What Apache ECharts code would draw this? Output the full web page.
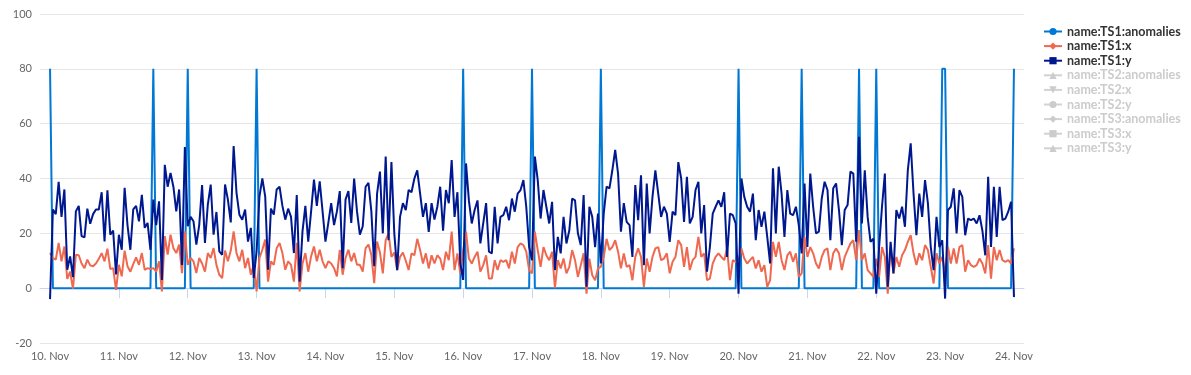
<!DOCTYPE html>
<html>
<head>
<meta charset="utf-8">
<script src="https://cdn.jsdelivr.net/npm/echarts@6/dist/echarts.min.js"></script>
<style>
	html, body { margin: 0; padding: 0; background: #fff; }
	#chart { width: 1191px; height: 375px; }
</style>
</head>
<body>
<div id="chart"></div>
<script>
// hourly samples, 10. Nov 00:00 .. 24. Nov 00:00 (one row per day)
var startDay = 10;
var dayLabels = [10, 11, 12, 13, 14, 15, 16, 17, 18, 19, 20, 21, 22, 23, 24];

var ts1Anomalies = [
	80, 0, 0, 0, 0, 0, 0, 0, 0, 0, 0, 0, 0, 0, 0, 0, 0, 0, 0, 0, 0, 0, 0, 0,
	0, 0, 0, 0, 0, 0, 0, 0, 0, 0, 0, 0, 80, 0, 0, 0, 0, 0, 0, 0, 0, 0, 0, 0,
	80, 0, 0, 0, 0, 0, 0, 0, 0, 0, 0, 0, 0, 0, 0, 0, 0, 0, 0, 0, 0, 0, 0, 0,
	80, 0, 0, 0, 0, 0, 0, 0, 0, 0, 0, 0, 0, 0, 0, 0, 0, 0, 0, 0, 0, 0, 0, 0,
	0, 0, 0, 0, 0, 0, 0, 0, 0, 0, 0, 0, 0, 0, 0, 0, 0, 0, 0, 0, 0, 0, 0, 0,
	0, 0, 0, 0, 0, 0, 0, 0, 0, 0, 0, 0, 0, 0, 0, 0, 0, 0, 0, 0, 0, 0, 0, 0,
	80, 0, 0, 0, 0, 0, 0, 0, 0, 0, 0, 0, 0, 0, 0, 0, 0, 0, 0, 0, 0, 0, 0, 0,
	80, 0, 0, 0, 0, 0, 0, 0, 0, 0, 0, 0, 0, 0, 0, 0, 0, 0, 0, 0, 0, 0, 0, 0,
	80, 0, 0, 0, 0, 0, 0, 0, 0, 0, 0, 0, 0, 0, 0, 0, 0, 0, 0, 0, 0, 0, 0, 0,
	0, 0, 0, 0, 0, 0, 0, 0, 0, 0, 0, 0, 0, 0, 0, 0, 0, 0, 0, 0, 0, 0, 0, 0,
	80, 0, 0, 0, 0, 0, 0, 0, 0, 0, 0, 0, 0, 0, 0, 0, 0, 0, 0, 0, 0, 0, 80, 0,
	0, 0, 0, 0, 0, 0, 0, 0, 0, 0, 0, 0, 0, 0, 0, 0, 0, 0, 80, 0, 0, 0, 0, 0,
	80, 0, 0, 0, 0, 0, 0, 0, 0, 0, 0, 0, 0, 0, 0, 0, 0, 0, 0, 0, 0, 0, 0, 80,
	80, 0, 0, 0, 0, 0, 0, 0, 0, 0, 0, 0, 0, 0, 0, 0, 0, 0, 0, 0, 0, 0, 0, 0,
	80
];

var ts1X = [
	12.8, 11, 10.4, 16.5, 9.8, 15.2, 3.4, 6, -0.2, 12.2, 12, 9, 7.3, 10.4, 8.3, 8, 9, 10.7, 12.8, 9.8, 14.4, 7, 7.3, -0.6,
	8.5, 4.3, 13.7, 8, 6, 8.8, 11.2, 8.5, 12.8, 6.7, 7.3, 7, 7.3, 6, 9.8, -1.2, 19, 12.2, 19.5, 14.6, 12.8, 15.9, 5.5, 20.7,
	8.5, 11, 9.8, 5.5, 11, 9, 6, 12.8, 11, 14.6, 8.5, 4.9, 3.7, 13.7, 9.8, 13.7, 20.7, 12.8, 9.8, 14, 7.3, 11, 4.9, 8.5,
	-1.2, 11, 14, 17.7, 2.4, 9.8, 8.5, 14.6, 16.5, 12.8, 6.7, 9.8, 8.5, 2.4, 16.5, -1.2, 9, 12.8, 6, 11.6, 15.2, 9.8, 14, 9.8,
	7.3, 9.8, 9, 7.3, 4.3, 14, 4.9, 11, 14, 9.8, 12.8, 8.5, 8.5, 6, 14.6, 15.9, 12.2, 1.8, 17, 13, 5.4, 17.5, 20, 11.4,
	13, 6.6, 11.4, 13, 10, 6.6, 12.7, 12, 18, 13.9, 9, 12.7, 7.2, 12, 9, 12, 10.8, 6.6, 13.3, 10.2, 20.6, 6.6, 12.7, 5.4,
	13.9, 20.6, 10.8, 9, 11.4, 13.3, 6, 8.4, 12, 3.5, 3.5, 10.2, 6.6, 10.2, 9.6, 10.2, 7.2, 13.3, 9, 15, 16.3, 15.7, 13.3, 6.6,
	5.4, 20.6, 13.9, 7.8, 15, 12, 10.2, 13.3, 0, 10.2, 7.2, 10.8, 5.4, 7.8, 13.9, 10.2, 4.1, 8.4, 12.7, -2, 10.8, 4.7, 2.9, 7.2,
	7.8, 11.4, 18, 13.9, 15, 17.5, 13.3, 7.2, 12.7, 7.8, 8.4, 2.9, 11.4, 14.5, 11.4, 0.5, 10.8, 6, 11.4, 14.5, 15, 10.2, 10.8, 12.7,
	5.4, 9.6, 11.4, 17.5, 15.7, 7.8, 15, 6.6, 10.2, 11.4, 18.7, 11.4, 12.7, 2.9, 3.5, 9, 11.4, 12.7, 11.4, 10.2, 14.5, 2.9, 10.2, 9.6,
	10.2, 14.5, 10.8, 9, 10.2, 11.4, 7.2, 10.2, 6, 8.4, 0.5, 2.9, 16.9, 11.4, 16.9, 10.2, 6.6, 12, 13.3, 9.6, 12.7, 4.1, 5.4, 18.7,
	11.4, 15, 12.7, 9, 7.2, 11.4, 13.9, 14.5, 6.6, 12.7, 14.5, 12.7, 6.6, 11.4, 13.9, 16.3, 17.5, 10.2, 21.2, 10.2, 12.7, 6.6, 5.4, 4.1,
	10.8, 4.1, 15, 11.4, -2, 15, 5.4, 11.4, 7.8, 12, 13.9, 16.9, 19.3, 12.7, 8.4, 12.7, 10.2, 15.7, 13.9, 7.8, 1.7, 12.7, 9, 11.4,
	5.4, 15, 9, 14.5, 9, 15, 15.7, 6, 10.2, 8.4, 7.8, 8.4, 10.8, 9, 5.4, 15.7, 3.5, 15, 10.2, 13.9, 10.2, 9.6, 10.2, 9,
	14.5
];

var ts1Y = [
	-4, 28.7, 27, 38.8, 26, 36, 6.7, 11.6, 4, 28, 30, 19, 18.5, 29, 23.5, 27, 28.7, 28.7, 35, 17, 35.7, 19.5, 21, 5,
	19.5, 14, 36.6, 23, 14, 28.7, 30, 24.4, 34, 22, 23.8, 14, 32.3, 23, 31.7, 3, 45, 37, 42, 37, 28, 36, 8.5, 51.5,
	22.6, 26, 24.4, 15.9, 23, 37.6, 16.5, 30.5, 37.8, 19.5, 27.8, 13.4, 12.2, 37.8, 32.3, 24, 51.8, 34.8, 26.8, 25, 28.7, 17, 22, 3.7,
	13.4, 33.5, 40, 33.5, 6.7, 29, 26.8, 36, 37, 30, 25, 29, 26, 12.8, 34, 2.4, 20.7, 30, 17, 28, 39.6, 30, 39, 28,
	17, 23.8, 31, 23, 28, 35.4, 7.3, 32.3, 35.4, 23.8, 40, 28, 19.5, 22.6, 37, 38.4, 28, 8, 34.5, 42.5, 20, 48, 17.5, 46,
	20, 6.6, 26, 31, 28.5, 35.8, 35, 40, 43, 34.5, 26, 31, 20.5, 31, 25, 29.7, 37, 21, 35.8, 31, 46.7, 26, 35, 9,
	3, 45.5, 32, 23.6, 28.5, 32, 16.3, 23.6, 31, 13.3, 12.7, 29.7, 16.3, 26, 26.6, 29.7, 24.8, 32.7, 27.9, 34.5, 35.8, 39.4, 29.7, 15,
	10.2, 48, 39.4, 25.4, 35.8, 29.7, 23.6, 31.5, 6.6, 18.7, 12.7, 26, 16.3, 21, 32.7, 32, 20, 15.7, 34, 0.5, 29.7, 26, 15, 27.2,
	9, 27.2, 37, 36.4, 43, 50.4, 41.8, 20.6, 31, 24.2, 23, 11.4, 37.6, 24.8, 41.2, 8.4, 38.2, 20, 33.3, 43, 34.5, 26, 29.7, 27.2,
	16.9, 27.9, 26.6, 46, 40, 24.2, 40.6, 23.6, 26, 35.8, 38.8, 20, 30.3, 6, 15, 27.2, 29.7, 32, 29.7, 35, 11.4, 27.2, 26.6, 23.6,
	-2, 40, 33.3, 29.7, 27.9, 34.5, 17.5, 28.5, 22.4, 27.9, 18.7, 9, 43.7, 20, 44.3, 34.5, 18.7, 35.8, 27.2, 26.6, 29.7, 23, 12.7, 38.2,
	15, 41.8, 29.7, 20, 20.6, 32.7, 38.8, 35.8, 17.5, 36.4, 38.2, 28.5, 15.7, 28.5, 30.3, 42.5, 41.8, 16.9, 55.2, 23.6, 43, 26, 16.9, 18.1,
	-2, 15, 29.7, 41.8, 0.5, 16.9, 5.4, 28.5, 25.4, 29.7, 22.4, 43, 52.8, 34.5, 19.3, 34.5, 26, 39.4, 31, 15, 6.6, 26, 15, 17.5,
	-3.8, 28.5, 29.7, 36.4, 20, 35.8, 33.3, 19.3, 25.4, 24.8, 25.4, 23.6, 26.6, 21, 12, 40.6, 15, 37, 18.7, 37, 24.8, 25.4, 27.9, 31.5,
	-3.2
];

var seriesNames = ['name:TS1:anomalies', 'name:TS1:x', 'name:TS1:y',
	'name:TS2:anomalies', 'name:TS2:x', 'name:TS2:y',
	'name:TS3:anomalies', 'name:TS3:x', 'name:TS3:y'];
var seriesColors = ['#0078d4', '#ef6950', '#00188f', '#ccc', '#ccc', '#ccc', '#ccc', '#ccc', '#ccc'];
var seriesSymbols = ['circle', 'diamond', 'rect', 'triangle', 'path://M0,0 L10,0 L5,9 Z',
	'circle', 'diamond', 'rect', 'triangle'];

var HOUR = 3600 * 1000;
var t0 = new Date(2023, 10, startDay).getTime();

function pairs(vals) {
	var out = [];
	for (var i = 0; i < vals.length; i++) {
		out.push([t0 + i * HOUR, vals[i]]);
	}
	return out;
}

var dayTicks = dayLabels.map(function (d) {
	return new Date(2023, 10, d).getTime();
});

var chart = echarts.init(document.getElementById('chart'));

var dataSets = [ts1Anomalies, ts1X, ts1Y, [], [], [], [], [], []];
var series = [];
var selected = {};
for (var i = 0; i < seriesNames.length; i++) {
	selected[seriesNames[i]] = i < 3;
	series.push({
		name: seriesNames[i],
		type: 'line',
		data: pairs(dataSets[i]),
		showSymbol: false,
		symbol: seriesSymbols[i],
		symbolSize: 8,
		color: seriesColors[i],
		lineStyle: { width: 2 },
		emphasis: { disabled: true },
		animation: false
	});
}

var option = {
	animation: false,
	grid: {
		left: 40,
		right: 167,
		top: 14,
		bottom: 32
	},
	legend: {
		orient: 'vertical',
		left: 1043,
		top: 25,
		padding: 0,
		itemWidth: 18,
		itemHeight: 9,
		itemGap: 1.6,
		inactiveColor: '#ccc',
		selected: selected,
		data: seriesNames,
		textStyle: {
			fontFamily: 'Lato',
			fontWeight: 'bold',
			fontSize: 12.5,
			lineHeight: 12,
			color: '#333'
		}
	},
	xAxis: {
		type: 'value',
		min: t0 - 3.5 * HOUR,
		max: dayTicks[dayTicks.length - 1] + 3.5 * HOUR,
		axisLine: { lineStyle: { color: '#ccd6eb' } },
		axisTick: {
			show: true,
			length: 10,
			customValues: dayTicks,
			lineStyle: { color: '#ccd6eb' }
		},
		axisLabel: {
			customValues: dayTicks,
			color: '#666',
			fontFamily: 'Lato',
			fontSize: 11,
			margin: 8,
			formatter: function (v) {
				return new Date(v).getDate() + '. Nov';
			}
		},
		splitLine: { show: false }
	},
	yAxis: {
		type: 'value',
		min: -20,
		max: 100,
		interval: 20,
		axisLine: { show: false },
		axisTick: { show: false },
		axisLabel: {
			color: '#666',
			fontFamily: 'Lato',
			fontSize: 11,
			margin: 8
		},
		splitLine: { lineStyle: { color: '#e6e6e6' } }
	},
	series: series
};

chart.setOption(option);
</script>
</body>
</html>
